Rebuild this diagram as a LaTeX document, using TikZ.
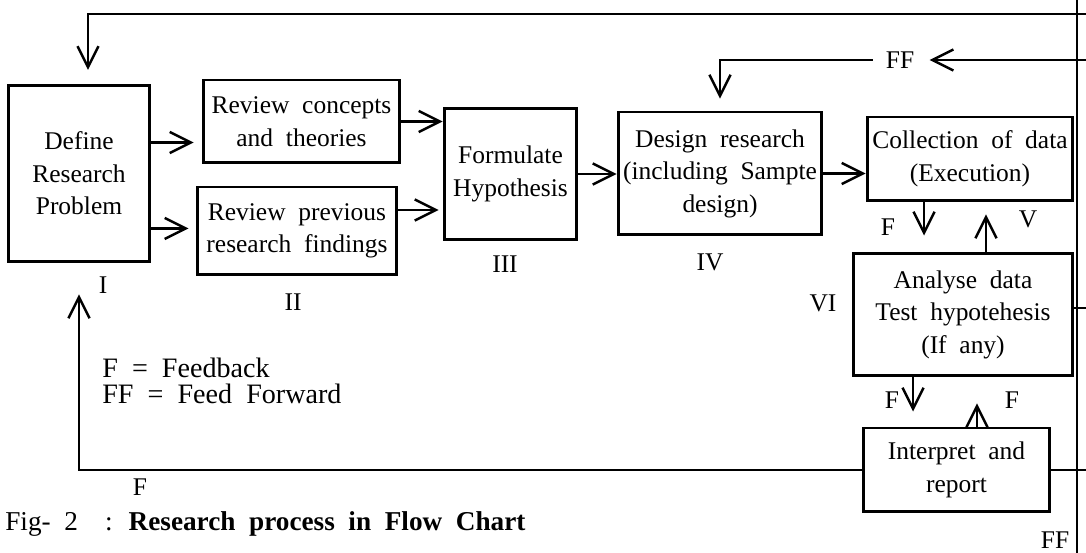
\documentclass[tikz,border=0pt]{standalone}
\usepackage{fontspec}
\setmainfont[WordSpace=2]{Liberation Serif}
\usetikzlibrary{arrows.meta}

\tikzset{
  stepbox/.style={draw,line width=1.7pt,align=center,inner sep=0pt},
  flow/.style={line width=1.4pt,-{Straight Barb[length=12pt,width=12pt,line width=1.4pt]}},
  wire/.style={line width=1.4pt},
  tag/.style={inner sep=0pt},
  keytext/.style={inner sep=0pt,anchor=west,font=\fontsize{16}{19}\selectfont}
}

\begin{document}
\begin{tikzpicture}[x=0.02cm,y=-0.02cm,font=\fontsize{14.5}{18.5}\selectfont]
\useasboundingbox (0,0) rectangle (1086,553);

\node[stepbox,minimum width=2.84cm,minimum height=3.54cm] (define) at (79,173.5) {Define\\Research\\Problem};
\node[stepbox,minimum width=3.94cm,minimum height=1.66cm] (revc) at (301.5,121.5) {Review concepts\\and theories};
\node[stepbox,minimum width=4.0cm,minimum height=1.76cm] (revp) at (297,231) {Review previous\\research findings};
\node[stepbox,minimum width=2.66cm,minimum height=2.64cm] (formulate) at (510.5,174) {Formulate\\Hypothesis};
\node[stepbox,minimum width=4.08cm,minimum height=2.46cm] (design) at (720,173.5) {Design research\\(including Sampte\\design)};
\node[stepbox,minimum width=4.12cm,minimum height=1.68cm] (collect) at (970,159) {Collection of data\\(Execution)};
\node[stepbox,minimum width=4.4cm,minimum height=2.46cm] (analyse) at (963,314.5) {Analyse data\\Test hypotehesis\\(If any)};
\node[stepbox,minimum width=3.74cm,minimum height=1.68cm] (interpret) at (956.5,470) {Interpret and\\report};

\node[tag] (n1) at (103,285) {I};
\node[tag] (n2) at (293,302) {II};
\node[tag] (n3) at (505,264) {III};
\node[tag] (n4) at (710,262) {IV};
\node[tag] (n5) at (1028,219) {V};
\node[tag] (n6) at (823,303) {VI};
\node[tag] (fa) at (888,227) {F};
\node[tag] (fb) at (892,400) {F};
\node[tag] (fc) at (1012,400) {F};
\node[tag] (fd) at (140,487) {F};
\node[tag] (ff) at (900,60) {FF};
\node[tag] (ffb) at (1055,540) {FF};

\node[keytext] (key1) at (102,368) {F = Feedback};
\node[keytext] (key2) at (102,394) {FF = Feed Forward};
\node[keytext,font=\fontsize{15.5}{19}\selectfont] (cap) at (5,524) {Fig- 2\ \ : \textbf{Research process in Flow Chart}};

\coordinate (busT) at (1077,0);
\coordinate (busB) at (1077,553);
\coordinate (edgeT) at (1086,14);
\coordinate (edgeF) at (1086,60);
\coordinate (edgeR) at (1086,0);
\coordinate (defIn) at (88,70);

% bus on the right
\draw[wire] (busT) -- (busB);
\draw[flow] (edgeT) -| (defIn);
\draw[flow,shorten >=0.3cm] (edgeF) -- (ff.east);
\draw[flow,shorten <=0.25cm,shorten >=0.24cm] (ff.west) -| (design.north);
\draw[wire] ([yshift=0.13cm]analyse.east) coordinate (s) -- (s -| edgeR);
\draw[wire] (interpret.east) -- (interpret.east -| edgeR);

% main flow
\draw[flow,shorten >=0.16cm] ([yshift=0.62cm]define.east) coordinate (a) -- (a -| revc.west);
\draw[flow,shorten >=0.14cm] ([yshift=-1.1cm]define.east) coordinate (a) -- (a -| revp.west);
\draw[flow] (revc.east) coordinate (a) -- (a -| formulate.west);
\draw[flow,shorten >=0.08cm] ([yshift=0.42cm]revp.east) coordinate (a) -- (a -| formulate.west);
\draw[flow] (formulate.east) coordinate (a) -- (a -| design.west);
\draw[flow] (design.east) coordinate (a) -- (a -| collect.west);

% feedback loops
\draw[flow,shorten >=0.32cm] ([xshift=-0.92cm]collect.south) coordinate (a) -- (a |- analyse.north);
\draw[flow,shorten >=0.24cm] ([xshift=0.46cm]analyse.north) coordinate (a) -- (a |- collect.south);
\draw[flow,shorten >=0.3cm] ([xshift=-1.0cm]analyse.south) coordinate (a) -- (a |- interpret.north);
\draw[flow,shorten >=0.52cm] ([xshift=0.41cm]interpret.north) coordinate (a) -- (a |- analyse.south);
\draw[flow,shorten >=0.62cm] (interpret.west) -| (define.south);

\end{tikzpicture}
\end{document}
